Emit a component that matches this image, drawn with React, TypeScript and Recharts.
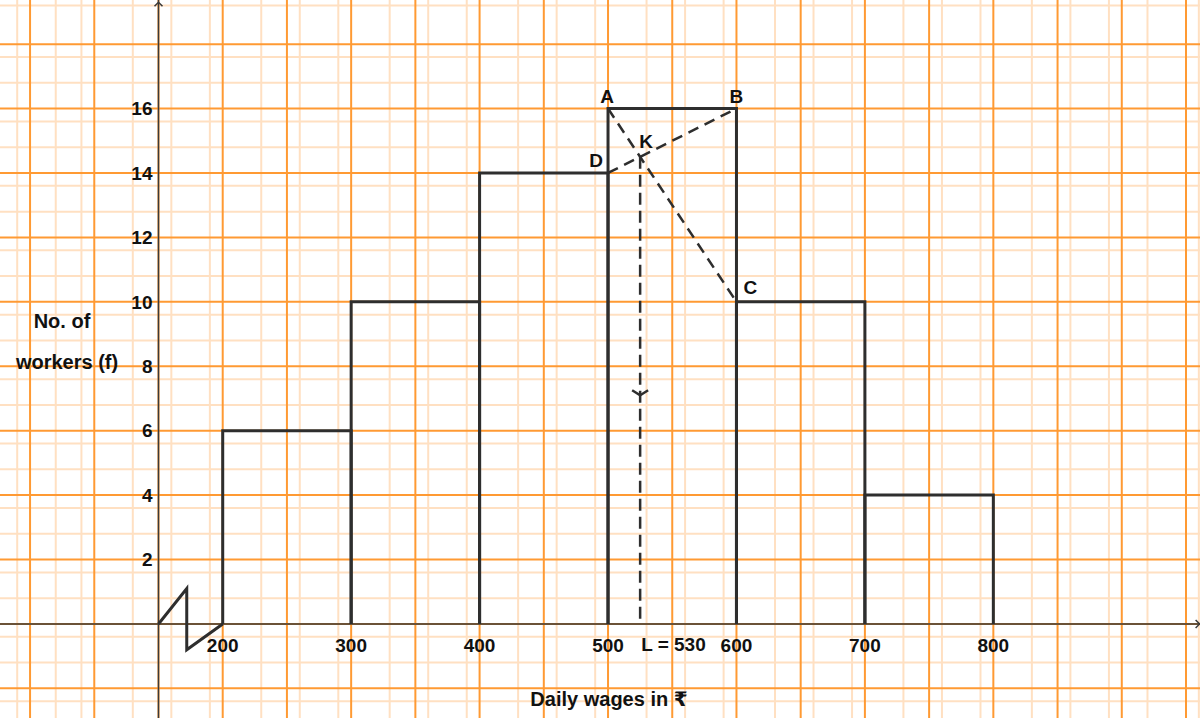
import React from 'react';
import {
  ComposedChart,
  XAxis,
  YAxis,
  CartesianGrid,
  Line,
  Scatter,
  ReferenceLine,
  ReferenceDot,
} from 'recharts';

// histogram data
const wageBins = [200, 300, 400, 500, 600, 700];
const binWidth = 100;
const workers = [6, 10, 14, 16, 10, 4];
const xTicks = [200, 300, 400, 500, 600, 700, 800];
const yTicks = [2, 4, 6, 8, 10, 12, 14, 16];

// mode construction on the modal class
const pointA = { x: 500, y: 16, name: 'A' };
const pointB = { x: 600, y: 16, name: 'B' };
const pointC = { x: 600, y: 10, name: 'C' };
const pointD = { x: 500, y: 14, name: 'D' };
const pointK = { x: 525, y: 14.5, name: 'K' };
const modeText = 'L = 530';
const arrowAtY = 7.1;

// kink in the x axis (origin is not 0)
const breakMark = [
  { x: 150, y: 0 },
  { x: 172, y: 1.1 },
  { x: 172, y: -0.8 },
  { x: 200, y: 0 },
];

const X_DOMAIN: [number, number] = [26.6, 960.9];
const Y_DOMAIN: [number, number] = [-2.92, 19.37];
const ORIGIN_X = 150;

// graph paper
const minorX: number[] = [];
const majorX: number[] = [];
for (let v = 30; v <= 960; v += 10) (v % 50 === 0 ? majorX : minorX).push(v);
const minorY: number[] = [];
const majorY: number[] = [];
for (let i = -7; i <= 48; i++) (i % 5 === 0 ? majorY : minorY).push(+(i * 0.4).toFixed(1));

const INK = '#2e2e2e';
const TEXT = '#111';

const barOutlines = wageBins.map((lo, i) => [
  { x: lo, y: 0 },
  { x: lo, y: workers[i] },
  { x: lo + binWidth, y: workers[i] },
  { x: lo + binWidth, y: 0 },
]);

const letterOffsets: Record<string, [number, number]> = {
  A: [-1, -12],
  B: [0, -12],
  C: [14, -15],
  D: [-12, -13],
  K: [6, -16],
};

const DownChevron = (p: any) => (
  <path d={`M${p.cx - 8},${p.cy - 5} L${p.cx},${p.cy} L${p.cx + 8},${p.cy - 5}`} fill="none" stroke={INK} strokeWidth={2.5} />
);
const UpChevron = (p: any) => (
  <path d={`M${p.cx - 4},${p.cy + 4} L${p.cx},${p.cy} L${p.cx + 4},${p.cy + 4}`} fill="none" stroke="#3a3a3a" strokeWidth={1.5} />
);
const RightChevron = (p: any) => (
  <path d={`M${p.cx - 4},${p.cy - 4} L${p.cx},${p.cy} L${p.cx - 4},${p.cy + 4}`} fill="none" stroke="#3a3a3a" strokeWidth={1.5} />
);

const labelStyle = { fill: TEXT, fontSize: 19, fontWeight: 700 };
const titleStyle: React.CSSProperties = {
  position: 'absolute',
  transform: 'translate(-50%, -50%)',
  fontSize: 20,
  fontWeight: 700,
  color: TEXT,
  whiteSpace: 'nowrap',
  lineHeight: 1,
};

const lineProps = { dataKey: 'y', type: 'linear' as const, dot: false, activeDot: false, isAnimationActive: false };

export default function App() {
  return (
    <div
      style={{
        position: 'absolute',
        left: 0,
        top: 0,
        width: 1200,
        height: 718,
        background: '#fff',
        fontFamily: '"Liberation Sans", Arial, "DejaVu Sans", sans-serif',
      }}
    >
      <ComposedChart width={1200} height={718} margin={{ top: 0, right: 0, bottom: 0, left: 0 }}>
        <XAxis type="number" dataKey="x" domain={X_DOMAIN} allowDataOverflow hide />
        <YAxis type="number" dataKey="y" domain={Y_DOMAIN} allowDataOverflow hide />
        <CartesianGrid verticalValues={minorX} horizontalValues={minorY} stroke="#ffe0c2" strokeWidth={2} />
        <CartesianGrid verticalValues={majorX} horizontalValues={majorY} stroke="#ff9a33" strokeWidth={2} />

        <ReferenceLine x={ORIGIN_X} stroke="#3a3a3a" strokeWidth={1.5} />
        <ReferenceLine y={0} stroke="#3a3a3a" strokeWidth={1.5} />

        {barOutlines.map((pts, i) => (
          <Line key={`bar${i}`} data={pts} {...lineProps} stroke={INK} strokeWidth={3} />
        ))}
        <Line data={breakMark} {...lineProps} stroke={INK} strokeWidth={3} />

        <Line data={[pointA, pointC]} {...lineProps} stroke={INK} strokeWidth={2.5} strokeDasharray="11 7" />
        <Line data={[pointD, pointB]} {...lineProps} stroke={INK} strokeWidth={2.5} strokeDasharray="11 7" />
        <Line data={[pointK, { x: pointK.x, y: 0 }]} {...lineProps} stroke={INK} strokeWidth={2.5} strokeDasharray="12 6" />

        <Scatter data={[{ x: pointK.x, y: arrowAtY }]} shape={DownChevron} isAnimationActive={false} />
        <Scatter data={[{ x: ORIGIN_X, y: 19.3 }]} shape={UpChevron} isAnimationActive={false} />
        <Scatter data={[{ x: 960.6, y: 0 }]} shape={RightChevron} isAnimationActive={false} />

        {xTicks.map((t) => (
          <ReferenceDot
            key={`xt${t}`}
            x={t}
            y={0}
            r={0}
            fill="none"
            stroke="none"
            label={{ value: String(t), position: 'bottom', offset: 15, ...labelStyle }}
          />
        ))}
        {yTicks.map((t) => (
          <ReferenceDot
            key={`yt${t}`}
            x={ORIGIN_X}
            y={t}
            r={0}
            fill="none"
            stroke="none"
            label={{ value: String(t), position: 'left', offset: 6, ...labelStyle }}
          />
        ))}
        {[pointA, pointB, pointC, pointD, pointK].map((p) => (
          <ReferenceDot
            key={`pt${p.name}`}
            x={p.x}
            y={p.y}
            r={0}
            fill="none"
            stroke="none"
            label={{
              value: p.name,
              position: 'center',
              dx: letterOffsets[p.name][0],
              dy: letterOffsets[p.name][1],
              ...labelStyle,
            }}
          />
        ))}
        <ReferenceDot
          x={pointK.x}
          y={0}
          r={0}
          fill="none"
          stroke="none"
          label={{ value: modeText, position: 'right', offset: 1, dy: 20, ...labelStyle, textAnchor: 'start' }}
        />
      </ComposedChart>

      <div style={{ ...titleStyle, left: 62, top: 321 }}>No. of</div>
      <div style={{ ...titleStyle, left: 67, top: 362 }}>workers (f)</div>
      <div style={{ ...titleStyle, left: 609, top: 699 }}>Daily wages in ₹</div>
    </div>
  );
}
